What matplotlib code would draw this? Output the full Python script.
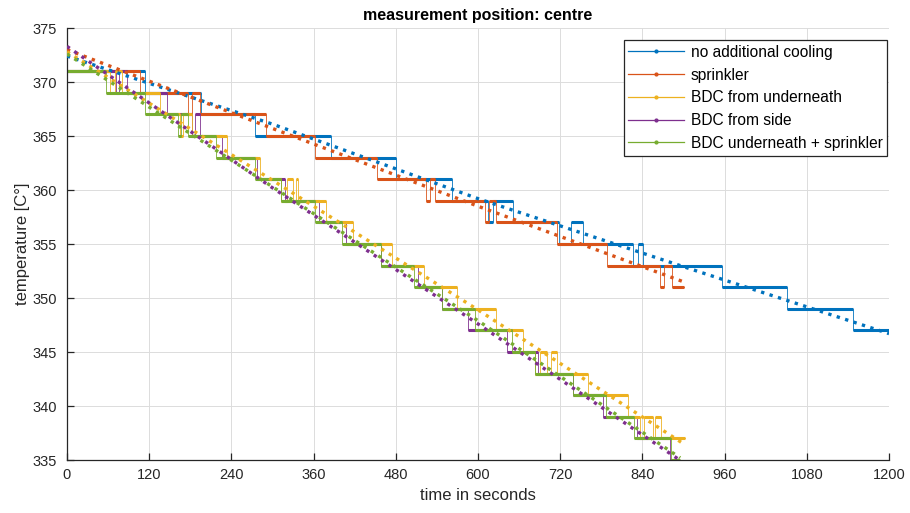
import numpy as np
import matplotlib
matplotlib.use('Agg')
import matplotlib.pyplot as plt
from matplotlib.lines import Line2D

plt.rcParams['font.family'] = ['Liberation Sans', 'DejaVu Sans']

# step data: start time of each level (s), last entry = end time; levels in degC
blue_t = [0, 114, 196, 274, 386, 481, 562, 615, 622, 651, 718, 736, 753, 826, 833, 841, 956, 1051, 1147, 1200]
blue_v = [371, 369, 367, 365, 363, 361, 359, 357, 359, 357, 355, 357, 355, 353, 355, 353, 351, 349, 347]

orange_t = [0, 107, 177, 182, 194, 290, 362, 452, 524, 530, 537, 610, 616, 626, 715, 788, 866, 872, 883, 900]
orange_v = [371, 369, 367, 369, 367, 365, 363, 361, 359, 361, 359, 357, 359, 357, 355, 353, 351, 353, 351]

yellow_t = [0, 63, 70, 80, 136, 165, 170, 182, 233, 282, 312, 321, 330, 334, 337, 378, 418, 474, 521, 570,
            626, 666, 683, 690, 700, 706, 715, 761, 819, 836, 842, 855, 858, 867, 902]
yellow_v = [371, 369, 371, 369, 367, 365, 367, 365, 363, 361, 359, 361, 359, 361, 359, 357, 355, 353, 351,
            349, 347, 345, 343, 345, 343, 345, 343, 341, 339, 337, 339, 337, 339, 337]

purple_t = [0, 72, 76, 87, 146, 183, 187, 194, 226, 277, 318, 368, 408, 459, 513, 547, 586, 642, 688, 739, 783, 832, 880, 893]
purple_v = [371, 369, 371, 369, 367, 365, 367, 365, 363, 361, 359, 357, 355, 353, 351, 349, 347, 345, 343, 341, 339, 337, 335]

green_t = [0, 57, 114, 162, 167, 177, 218, 274, 312, 362, 402, 459, 506, 547, 596, 649, 683, 739, 787, 828, 882, 895]
green_v = [371, 369, 367, 365, 367, 365, 363, 361, 359, 357, 355, 353, 351, 349, 347, 345, 343, 341, 339, 337, 335]

# dotted trend lines read at a few times
blue_trend_t = [0, 300, 600, 900, 1200]
blue_trend_v = [372.4, 366.1, 359.2, 352.9, 346.7]
orange_trend_t = [0, 300, 600, 900]
orange_trend_v = [373.0, 365.7, 358.5, 351.5]
yellow_trend_t = [0, 300, 600, 900]
yellow_trend_v = [372.8, 360.9, 348.9, 336.5]
purple_trend_t = [0, 300, 600, 892]
purple_trend_v = [373.3, 360.2, 347.6, 335.1]
green_trend_t = [0, 300, 600, 895]
green_trend_v = [372.6, 360.3, 347.9, 335.2]

labels = ['no additional cooling', 'sprinkler', 'BDC from underneath',
          'BDC from side', 'BDC underneath + sprinkler']
colors = ['#0072BD', '#D95319', '#EDB120', '#7E2F8E', '#77AC30']

steps = [(blue_t, blue_v), (orange_t, orange_v), (yellow_t, yellow_v),
         (purple_t, purple_v), (green_t, green_v)]
trends = [(blue_trend_t, blue_trend_v), (orange_trend_t, orange_trend_v),
          (yellow_trend_t, yellow_trend_v), (purple_trend_t, purple_trend_v),
          (green_trend_t, green_trend_v)]

# purple sits below yellow in the original drawing
draw_order = [0, 1, 3, 2, 4]

fig = plt.figure(figsize=(9.1, 5.13), dpi=100)
ax = fig.add_axes([0.0736, 0.1033, 0.9034, 0.8421])

for z, i in enumerate(draw_order):
    t = np.array(steps[i][0], dtype=float)
    v = np.array(steps[i][1], dtype=float)
    c = colors[i]
    ax.step(t, np.append(v, v[-1]), where='post', color=c, lw=0.7, alpha=0.85, zorder=2 + 0.1 * z)
    ax.hlines(v, t[:-1], t[1:], color=c, lw=2.2, zorder=2 + 0.1 * z)

for (t, v), c in zip(trends, colors):
    ax.plot(t, v, ls=':', color=c, lw=2.4, zorder=3)

ax.set_xlim(0, 1200)
ax.set_ylim(335, 375)
ax.set_xticks(np.arange(0, 1201, 120))
ax.set_yticks(np.arange(335, 376, 5))
ax.grid(True, color='#dcdcdc', lw=0.7)
ax.set_axisbelow(True)
for s in ['top', 'right']:
    ax.spines[s].set_visible(False)
for s in ['left', 'bottom']:
    ax.spines[s].set_color('#262626')
    ax.spines[s].set_linewidth(0.9)
ax.tick_params(direction='in', length=5, width=0.9, colors='#262626', labelsize=10.5)
ax.tick_params(axis='x', pad=6)
ax.tick_params(axis='y', pad=7)

ax.set_title('measurement position: centre', fontsize=11.5, fontweight='bold', pad=6)
ax.set_xlabel('time in seconds', fontsize=12, color='#262626', labelpad=4)
ax.set_ylabel('temperature [C°]', fontsize=12, color='#262626', labelpad=2)

handles = [Line2D([0], [0], color=c, lw=0.9, marker='.', markersize=4) for c in colors]
leg = ax.legend(handles, labels, loc='upper right', bbox_to_anchor=(0.9976, 0.972),
                fontsize=11.2, fancybox=False, framealpha=1, edgecolor='#262626',
                handlelength=3.6, labelspacing=0.5, borderaxespad=0,
                handletextpad=0.4, borderpad=0.3)
leg.get_frame().set_linewidth(0.9)

fig.savefig('out.png', dpi=100)
